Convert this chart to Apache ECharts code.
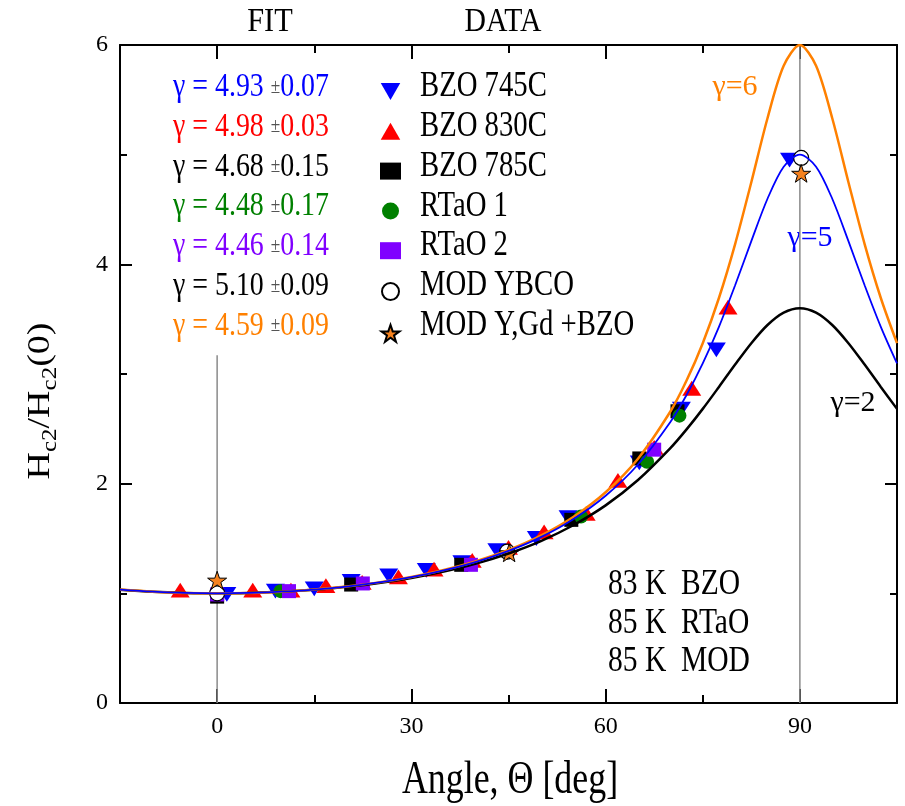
<!DOCTYPE html>
<html><head><meta charset="utf-8">
<script src="https://cdn.jsdelivr.net/npm/echarts@6/dist/echarts.min.js"></script>
<style>html,body{margin:0;padding:0;background:#fff}#c{width:905px;height:806px}</style>
</head><body><div id="c"></div>
<script>
// ---------------- data ----------------
const xMajorTicks = [0, 30, 60, 90];
const xMinorTicks = [15, 45, 75];

// fit curves (angle in deg -> Hc2/Hc2(0))
const fitAngles = [-15,-10,-5,0,5,10,15,20,25,30,35,40,45,50,55,60,65,70,72.5,75,77.5,80,82.5,85,87.5,90,92.5,95,97.5,100,102.5,105];
const curveGamma6 = [1.034,1.015,1.004,1,1.004,1.015,1.034,1.062,1.100,1.149,1.213,1.293,1.395,1.526,1.696,1.922,2.228,2.658,2.940,3.281,3.693,4.185,4.749,5.332,5.810,6.000,5.810,5.332,4.749,4.185,3.693,3.281];
const curveGamma5 = [1.034,1.015,1.004,1,1.004,1.015,1.034,1.061,1.099,1.147,1.209,1.287,1.387,1.513,1.676,1.890,2.175,2.562,2.808,3.096,3.430,3.809,4.212,4.598,4.890,5.000,4.890,4.598,4.212,3.809,3.430,3.096];
const curveGamma2 = [1.032,1.014,1.004,1,1.004,1.014,1.032,1.059,1.094,1.140,1.198,1.271,1.363,1.477,1.621,1.802,2.033,2.324,2.495,2.682,2.882,3.086,3.281,3.447,3.560,3.600,3.560,3.447,3.281,3.086,2.882,2.682];

// measured points [angle, Hc2/Hc2(0)]
const bzo745 = [[1.5,0.99],[9,1.02],[15,1.04],[20.7,1.11],[26.5,1.16],[32.3,1.21],[37.8,1.28],[43.2,1.39],[49.3,1.50],[54.2,1.69],[65.2,2.19],[71.7,2.68],[77.1,3.22],[88.4,4.95]];
const bzo830 = [[-5.7,1.03],[5.5,1.03],[11.4,1.03],[16.8,1.07],[22.4,1.10],[28,1.15],[33.5,1.22],[39.4,1.30],[45,1.42],[50.5,1.56],[57,1.73],[61.9,2.03],[67.5,2.33],[73.3,2.87],[78.9,3.61]];
const bzo785 = [[0,0.97],[20.7,1.08],[37.7,1.26],[54.7,1.67],[65.2,2.23],[71.1,2.66]];
const rtao1 = [[9.8,1.02],[56.2,1.70],[66.4,2.20],[71.4,2.62]];
const rtao2 = [[0,0.99],[11.1,1.02],[22.5,1.09],[39.2,1.26],[67.5,2.31]];
const modYbco = [[0,1.0],[44.8,1.38],[90.2,4.97]];
const modYGdBzo = [[0,1.12],[45.1,1.37],[90.2,4.83]];

const refLine0 = [[0,0],[0,3.17]];
const refLine90 = [[90,0],[90,6]];

const seriesNames = ['BZO 745C','BZO 830C','BZO 785C','RTaO 1','RTaO 2','MOD YBCO','MOD Y,Gd +BZO'];
const fitLabels = [
  ['4.93','0.07','#0000FF'],
  ['4.98','0.03','#FF0000'],
  ['4.68','0.15','#000000'],
  ['4.48','0.17','#008000'],
  ['4.46','0.14','#8000FF'],
  ['5.10','0.09','#000000'],
  ['4.59','0.09','#FF8000']
];
const noteLines = ['83 K  BZO','85 K  RTaO','85 K  MOD'];

// ---------------- chart ----------------
const F = '"Liberation Serif","Times New Roman",serif';
const chart = echarts.init(document.getElementById('c'), null, {renderer:'canvas'});

const STAR = 'path://M50,0 L61.8,35.1 L98.1,35.1 L68.8,56.8 L79.4,90.5 L50,69.1 L20.6,90.5 L31.2,56.8 L1.9,35.1 L38.2,35.1 Z';
const TRI_UP = 'path://M50,0 L100,87 L0,87 Z';
const TRI_DOWN = 'path://M0,0 L100,0 L50,87 Z';

const axisLineStyle = {color:'#000', width:2};
function xAx(pos, ticks, len, showLine, showLabel){
  return {type:'value', min:-15, max:105, position:pos,
    axisLine:{show:showLine, onZero:false, lineStyle:axisLineStyle},
    axisTick:{show:true, inside:true, length:len, customValues:ticks, lineStyle:axisLineStyle},
    axisLabel:{show:showLabel, customValues:ticks, fontSize:24, fontFamily:F, color:'#000', margin:12},
    splitLine:{show:false}};
}
function yAx(pos, showLabel){
  return {type:'value', min:0, max:6, interval:2, position:pos,
    axisLine:{show:true, onZero:false, lineStyle:axisLineStyle},
    axisTick:{show:true, inside:true, length:12, lineStyle:axisLineStyle},
    minorTick:{show:true, splitNumber:2, length:7, lineStyle:axisLineStyle},
    axisLabel:{show:showLabel, fontSize:24, fontFamily:F, color:'#000', margin:12},
    splitLine:{show:false}, minorSplitLine:{show:false}};
}

function pts(xs, ys){ return xs.map((x,i)=>[x, ys[i]]); }

const series = [
  {type:'line', data:refLine0, symbol:'none', silent:true, z:1, lineStyle:{color:'#8a8a8a', width:1.5}},
  {type:'line', data:refLine90, symbol:'none', silent:true, z:1, lineStyle:{color:'#8a8a8a', width:1.5}},
  {name:seriesNames[0], type:'scatter', data:bzo745, symbol:TRI_DOWN, symbolSize:[19,17], symbolKeepAspect:true, itemStyle:{color:'#0000FF', opacity:1}, z:3},
  {name:seriesNames[1], type:'scatter', data:bzo830, symbol:TRI_UP, symbolSize:[19,17], symbolKeepAspect:true, itemStyle:{color:'#FF0000', opacity:1}, z:3},
  {name:seriesNames[2], type:'scatter', data:bzo785, symbol:'rect', symbolSize:14, itemStyle:{color:'#000000', opacity:1}, z:3},
  {name:seriesNames[3], type:'scatter', data:rtao1, symbol:'circle', symbolSize:14, itemStyle:{color:'#008000', opacity:1}, z:3},
  {name:seriesNames[4], type:'scatter', data:rtao2, symbol:'rect', symbolSize:14, itemStyle:{color:'#8000FF', opacity:1}, z:3},
  {name:seriesNames[5], type:'scatter', data:modYbco, symbol:'circle', symbolSize:15, itemStyle:{color:'#FFFFFF', borderColor:'#000', borderWidth:1.2, opacity:1}, z:3},
  {name:seriesNames[6], type:'scatter', data:modYGdBzo, symbol:STAR, symbolSize:19, symbolKeepAspect:true, itemStyle:{color:'#F5821F', borderColor:'#000', borderWidth:1, opacity:1}, z:3},
  {type:'line', data:pts(fitAngles, curveGamma2), symbol:'none', smooth:0.3, silent:true, z:4, lineStyle:{color:'#000', width:2.5}},
  {type:'line', data:pts(fitAngles, curveGamma6), symbol:'none', smooth:0.3, silent:true, z:4, lineStyle:{color:'#FF8000', width:2.5}},
  {type:'line', data:pts(fitAngles, curveGamma5), symbol:'none', smooth:0.3, silent:true, z:5, lineStyle:{color:'#0000FF', width:1.8}}
];

const rowY = i => 87 + 39.8*i;
const graphics = [];
graphics.push({type:'text', x:270, y:22, scaleX:0.92, style:{text:'FIT', fontSize:33, fontFamily:F, fill:'#000', align:'center', verticalAlign:'middle'}});
graphics.push({type:'text', x:503, y:22, scaleX:0.9, style:{text:'DATA', fontSize:33, fontFamily:F, fill:'#000', align:'center', verticalAlign:'middle'}});
fitLabels.forEach((f,i)=>{
  graphics.push({type:'text', x:173, y:rowY(i), scaleX:0.82, style:{
    text:'{a|γ = '+f[0]+' }{p|±}{a|'+f[1]+'}',
    rich:{a:{fontSize:34, fontFamily:F, fill:f[2]}, p:{fontSize:21, fontFamily:F, fill:'#555'}},
    align:'left', verticalAlign:'middle'}});
});
seriesNames.forEach((n,i)=>{
  graphics.push({type:'text', x:420, y:rowY(i), scaleX:0.82, style:{text:n, fontSize:35, fontFamily:F, fill:'#000', align:'left', verticalAlign:'middle'}});
});
noteLines.forEach((t,i)=>{
  graphics.push({type:'text', x:608, y:[585,623.5,661.5][i], scaleX:0.82, style:{text:t, fontSize:36, fontFamily:F, fill:'#000', align:'left', verticalAlign:'middle'}});
});
graphics.push({type:'text', x:735, y:87, style:{text:'γ=6', fontSize:30, fontFamily:F, fill:'#FF8000', align:'center', verticalAlign:'middle'}});
graphics.push({type:'text', x:810, y:238, style:{text:'γ=5', fontSize:30, fontFamily:F, fill:'#0000FF', align:'center', verticalAlign:'middle'}});
graphics.push({type:'text', x:853, y:403, style:{text:'γ=2', fontSize:30, fontFamily:F, fill:'#000', align:'center', verticalAlign:'middle'}});
graphics.push({type:'text', x:510, y:781, scaleX:0.78, style:{text:'Angle, Θ [deg]', fontSize:46, fontFamily:F, fill:'#000', align:'center', verticalAlign:'middle'}});
graphics.push({type:'text', x:41, y:401, rotation:Math.PI/2, scaleY:0.85, style:{
  text:'{h|H}{s|c2}{h|/H}{s|c2}{h|(0)}',
  rich:{h:{fontSize:38, fontFamily:F, fill:'#000', lineHeight:46}, s:{fontSize:25, fontFamily:F, fill:'#000', lineHeight:24, verticalAlign:'bottom'}},
  align:'center', verticalAlign:'middle'}});

chart.setOption({
  animation:false,
  backgroundColor:'#fff',
  grid:{left:120, right:8, top:45, bottom:103, containLabel:false},
  xAxis:[xAx('bottom', xMajorTicks, 14, true, true), xAx('bottom', xMinorTicks, 8, false, false),
         xAx('top', xMajorTicks, 14, true, false), xAx('top', xMinorTicks, 8, false, false)],
  yAxis:[yAx('left', true), yAx('right', false)],
  legend:{orient:'vertical', left:375, top:78, itemWidth:21, itemHeight:17, itemGap:22.8,
    data:seriesNames, formatter:()=>'', selectedMode:false, textStyle:{fontSize:10}, itemStyle:{opacity:1}},
  graphic:{elements:graphics},
  series:series
});
</script></body></html>
